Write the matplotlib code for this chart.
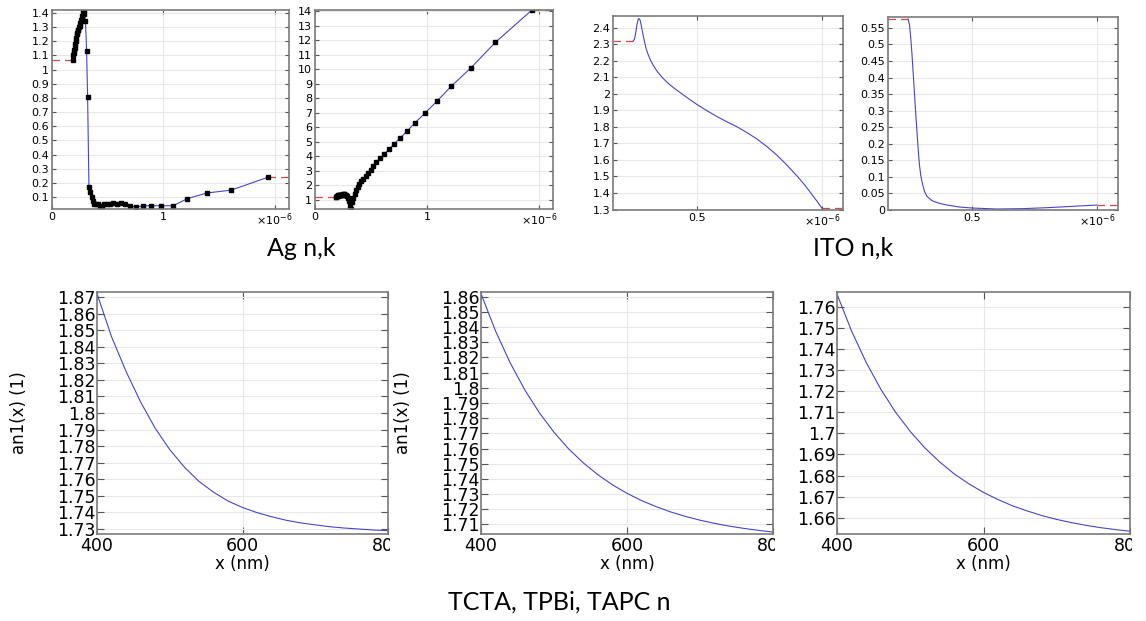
import numpy as np
import matplotlib
matplotlib.use('Agg')
import matplotlib.pyplot as plt
from matplotlib.ticker import FuncFormatter
from matplotlib.transforms import Bbox, TransformedBbox

W, H = 1146, 621

# ---- Ag n,k (wavelength in um) ----
ag_wl = [0.188, 0.191, 0.195, 0.199, 0.203, 0.207, 0.212, 0.216, 0.221, 0.226,
         0.231, 0.237, 0.243, 0.248, 0.255, 0.262, 0.269, 0.276, 0.284, 0.292,
         0.301, 0.311, 0.320, 0.332, 0.342, 0.355, 0.368, 0.381, 0.397, 0.413,
         0.431, 0.451, 0.471, 0.496, 0.521, 0.549, 0.582, 0.617, 0.659, 0.705,
         0.756, 0.821, 0.892, 0.984, 1.088, 1.216, 1.393, 1.610, 1.937]
ag_n = [1.07, 1.10, 1.12, 1.14, 1.15, 1.18, 1.20, 1.22, 1.25, 1.26,
        1.28, 1.28, 1.30, 1.31, 1.33, 1.35, 1.38, 1.41, 1.41, 1.39,
        1.34, 1.13, 0.81, 0.17, 0.14, 0.10, 0.07, 0.05, 0.05, 0.05,
        0.04, 0.04, 0.05, 0.05, 0.05, 0.06, 0.05, 0.06, 0.05, 0.04,
        0.03, 0.04, 0.04, 0.04, 0.04, 0.09, 0.13, 0.15, 0.24]
ag_k = [1.212, 1.232, 1.255, 1.277, 1.296, 1.312, 1.325, 1.336, 1.342, 1.344,
        1.357, 1.367, 1.378, 1.389, 1.393, 1.387, 1.372, 1.331, 1.264, 1.161,
        0.964, 0.616, 0.392, 0.829, 1.142, 1.419, 1.657, 1.864, 2.070, 2.275,
        2.462, 2.657, 2.869, 3.093, 3.324, 3.586, 3.858, 4.152, 4.483, 4.838,
        5.242, 5.727, 6.312, 6.992, 7.795, 8.828, 10.10, 11.85, 14.08]

# ---- ITO n,k (wavelength in um) ----
ito_n_wl = [0.245, 0.250, 0.255, 0.260, 0.264, 0.268, 0.272, 0.276, 0.280, 0.285,
            0.290, 0.297, 0.305, 0.315, 0.325, 0.335, 0.345, 0.36, 0.375, 0.39,
            0.41, 0.44, 0.47, 0.50, 0.54, 0.58, 0.62, 0.66, 0.70, 0.74,
            0.78, 0.82, 0.86, 0.90, 0.93, 0.96, 0.98, 1.00]
ito_n = [2.32, 2.33, 2.37, 2.42, 2.446, 2.455, 2.447, 2.42, 2.39, 2.35,
         2.315, 2.27, 2.235, 2.20, 2.172, 2.148, 2.127, 2.10, 2.077, 2.056,
         2.032, 1.999, 1.966, 1.935, 1.897, 1.862, 1.83, 1.80, 1.765, 1.726,
         1.68, 1.628, 1.568, 1.503, 1.45, 1.39, 1.35, 1.307]
ito_k_wl = [0.244, 0.25, 0.255, 0.26, 0.265, 0.27, 0.275, 0.28, 0.285, 0.29,
            0.295, 0.30, 0.31, 0.32, 0.34, 0.37, 0.40, 0.45, 0.50, 0.60,
            0.70, 0.80, 0.90, 1.00]
ito_k = [0.577, 0.56, 0.52, 0.47, 0.41, 0.35, 0.29, 0.235, 0.18, 0.135,
         0.105, 0.085, 0.056, 0.041, 0.028, 0.020, 0.015, 0.009, 0.006, 0.003,
         0.004, 0.007, 0.011, 0.015]

# ---- organic layers n (wavelength in nm) ----
org_wl = [400, 420, 440, 460, 480, 500, 520, 540, 560, 580, 600,
          620, 640, 660, 680, 700, 720, 740, 760, 780, 800]
tcta_n = [1.8720, 1.8460, 1.8250, 1.8066, 1.7908, 1.7779, 1.7674, 1.7588, 1.7523, 1.7469, 1.7430,
          1.7399, 1.7374, 1.7353, 1.7337, 1.7325, 1.7314, 1.7306, 1.7300, 1.7294, 1.7290]
tpbi_n = [1.8620, 1.8373, 1.8164, 1.7986, 1.7835, 1.7707, 1.7598, 1.7506, 1.7428, 1.7361, 1.7305,
          1.7257, 1.7217, 1.7182, 1.7153, 1.7128, 1.7107, 1.7089, 1.7074, 1.7061, 1.7050]
tapc_n = [1.7660, 1.7484, 1.7335, 1.7208, 1.7100, 1.7009, 1.6931, 1.6865, 1.6808, 1.6761, 1.6720,
          1.6686, 1.6656, 1.6632, 1.6610, 1.6592, 1.6577, 1.6564, 1.6553, 1.6544, 1.6536]

ag_n_yticks = [0.1, 0.2, 0.3, 0.4, 0.5, 0.6, 0.7, 0.8, 0.9, 1.0, 1.1, 1.2, 1.3, 1.4]
ag_k_yticks = list(range(1, 15))
ito_n_yticks = [1.3, 1.4, 1.5, 1.6, 1.7, 1.8, 1.9, 2.0, 2.1, 2.2, 2.3, 2.4]
ito_k_yticks = [0, 0.05, 0.1, 0.15, 0.2, 0.25, 0.3, 0.35, 0.4, 0.45, 0.5, 0.55]
tcta_yticks = [1.73 + 0.01 * i for i in range(15)]
tpbi_yticks = [1.71 + 0.01 * i for i in range(16)]
tapc_yticks = [1.66 + 0.01 * i for i in range(11)]
org_xticks = [400, 600, 800]

BLUE = '#4646c8'
RED = '#d04848'
MULT = r'$\times10^{-6}$'

fig = plt.figure(figsize=(W / 100, H / 100), dpi=100)
fmt = FuncFormatter(lambda v, p: f'{round(v, 4):g}')


def px_axes(left, top, right, bottom):
    return fig.add_axes([left / W, 1 - bottom / H, (right - left) / W, (bottom - top) / H])


def style(ax, size, ticklen):
    for s in ax.spines.values():
        s.set_color('#7a7a7a')
        s.set_linewidth(1.2)
    ax.tick_params(direction='in', top=True, right=True, length=ticklen, width=0.8,
                   color='#555555', labelsize=size, pad=2)
    ax.grid(True, color='#e8e8e8', lw=0.8)
    ax.set_axisbelow(True)


def nk_panel(ax, wl, vals, xlim, ylim, yticks, xticks, xlabels, markers):
    # constant extrapolation outside the data range (red dashed)
    ax.plot([xlim[0], wl[0]], [vals[0], vals[0]], color=RED, lw=0.9, ls=(0, (6, 4)))
    ax.plot([wl[-1], xlim[1]], [vals[-1], vals[-1]], color=RED, lw=0.9, ls=(0, (6, 4)))
    ax.plot(wl, vals, color=BLUE, lw=0.8)
    if markers:
        ax.plot(wl, vals, ls='none', marker='s', ms=3, color='black')
    ax.set_xlim(*xlim)
    ax.set_ylim(*ylim)
    ax.set_yticks(yticks)
    ax.yaxis.set_major_formatter(fmt)
    ax.set_xticks(xticks, xlabels)
    style(ax, 8, 3)


ax1 = px_axes(52, 10, 289, 209)
nk_panel(ax1, ag_wl, ag_n, (0, 2.13), (0.017, 1.42), ag_n_yticks, [0, 1, 2], ['0', '1', MULT], True)
ax2 = px_axes(315, 10, 553, 209)
nk_panel(ax2, ag_wl, ag_k, (0, 2.125), (0.38, 14.08), ag_k_yticks, [0, 1, 2], ['0', '1', MULT], True)
ax3 = px_axes(613, 16, 843, 210)
nk_panel(ax3, ito_n_wl, ito_n, (0.164, 1.084), (1.297, 2.47), ito_n_yticks, [0.5, 1.0], ['0.5', MULT], False)
ax4 = px_axes(888, 17, 1118, 210)
nk_panel(ax4, ito_k_wl, ito_k, (0.164, 1.084), (0.0, 0.583), ito_k_yticks, [0.5, 1.0], ['0.5', MULT], False)


def org_panel(left, right, vals, ylim, yticks, ylabel):
    ax = px_axes(left, 292, right, 534)
    ax.plot(org_wl, vals, color=BLUE, lw=0.8)
    ax.set_xlim(400, 800)
    ax.set_ylim(*ylim)
    ax.set_yticks(yticks)
    ax.yaxis.set_major_formatter(fmt)
    ax.set_xticks(org_xticks, [str(t) for t in org_xticks])
    style(ax, 12.5, 5)
    ax.tick_params(axis='y', pad=1)
    ax.set_xlabel('x (nm)', fontsize=12, labelpad=0)
    if ylabel:
        ax.set_ylabel('an1(x) (1)', fontsize=12, labelpad=21)
    # last x label is cut at the panel edge, as in the screenshot
    clip = TransformedBbox(Bbox.from_extents(0, 0, (right + 2) / W, 1), fig.transFigure)
    lab = ax.xaxis.get_major_ticks()[-1].label1
    lab.set_clip_box(clip)
    lab.set_clip_on(True)
    return ax


org_panel(97, 388, tcta_n, (1.727, 1.873), tcta_yticks, True)
org_panel(481, 773, tpbi_n, (1.7037, 1.8631), tpbi_yticks, True)
org_panel(837, 1130, tapc_n, (1.6523, 1.767), tapc_yticks, False)

cap = dict(fontsize=18, family='Lato', ha='center', va='center')
fig.text(301 / W, 1 - 248 / H, 'Ag n,k', **cap)
fig.text(853 / W, 1 - 248 / H, 'ITO n,k', **cap)
fig.text(559 / W, 1 - 602 / H, 'TCTA, TPBi, TAPC n', **cap)

fig.savefig('out.png', dpi=100)
print('Saved out.png')
